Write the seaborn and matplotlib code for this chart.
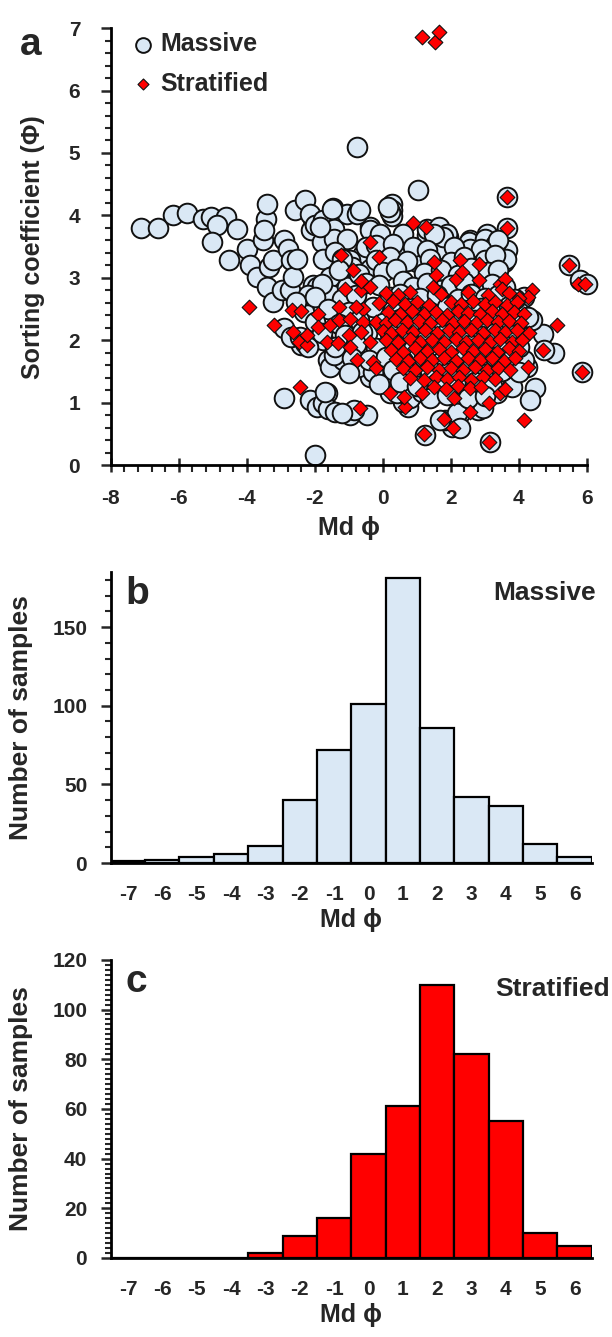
import matplotlib
matplotlib.use("Agg")
import matplotlib.pyplot as plt
import seaborn as sns
from matplotlib.ticker import MultipleLocator

# ---------------- data ----------------
# Panel a: median grain size (Md phi) vs sorting coefficient, massive facies
massive_md = [
    -7.10, -6.60, -6.18, -5.75, -5.28, -5.06, -4.60, -4.88, -4.30, -5.03,
    -4.51, -4.00, -3.90, -3.51, -3.43, -3.41, -3.71, -3.36, -3.22, -3.41,
    -3.22, -2.97, -2.73, -2.92, -2.78, -2.70, -2.58, -2.63, -2.92, -2.40,
    -2.70, -2.92, -2.14, -1.94, -1.99, -2.04, -2.10, -2.04, -2.24, -2.33,
    -3.49, -2.29, -2.14, -1.99, -1.75, -1.47, -1.45, -1.06, -0.72, -0.37,
    -0.57, -1.79, -1.45, -1.06, -2.53, -1.75, -1.40, -0.96, -0.90, -1.55,
    -1.94, -2.20, -2.55, -1.50, -1.06, -1.75, -1.60, -1.26, -1.55, -0.37,
    -1.65, -1.75, -1.62, -1.40, -0.96, -0.47, -2.43, -2.29, -0.72, -0.86,
    -1.70, -1.20, -2.20, -0.47, -1.16, -1.45,
    -0.77, 1.02, 3.66, 3.66, 0.26, 0.26, 0.26, -1.50, -1.84, -0.37,
    -0.08, 0.60, 1.29, 1.59, 1.93, 2.57, 3.25, 3.06, 3.65, 5.46,
    5.80, 6.00, 5.85, 4.72, 5.02, 4.75, 4.38, 4.24, 4.48, 4.33,
    3.79, 3.16, 1.24, 2.03, 1.83, 2.27, 0.75, 0.21, 0.60, -0.77,
    0.21, 0.15, 1.29, 1.66, 1.88, 2.52, 3.00, 3.30, 3.55, 2.76,
    2.57, 1.78, 1.00, 0.51, -0.50, -0.37, -0.67, 4.14, 3.99, 4.28,
    4.14, 2.81, 2.95, 3.35, 3.62, 3.40, 2.70, 1.78, 1.50, 1.69,
    3.74, 2.27, 2.18, 1.69, 2.27, 0.41, 0.80, 1.15, 0.02, -0.30,
    -0.20, 0.30, 0.90, 1.30, 2.10, 2.90,
    -1.20, -0.20, 0.20, 0.70, 1.40, 2.00, 2.40, 3.00, 3.30,
    -1.30, -0.70, 0.00, 0.40, 1.20, 1.70, 2.20, 2.60, 3.10, 3.40,
    -1.80, -0.50, -0.10, 0.60, 0.90, 1.30, 2.00, 2.40, 3.20, 3.60,
    -2.00, -1.20, -0.80, 0.20, 0.50, 1.10, 1.60, 2.20, 2.60, 3.00, 3.40, 3.90,
    -1.60, -1.00, -0.30, 0.30, 0.80, 1.40, 1.90, 2.40, 2.90, 3.30, 3.70,
    -2.00, -1.30, -0.70, 0.00, 0.50, 1.10, 1.60, 2.10, 2.70, 3.10, 3.50, 3.90,
    -1.80, -1.10, -0.60, 0.20, 0.70, 1.30, 1.80, 2.40, 2.90, 3.30, 3.80,
    -1.40, -0.80, -0.20, 0.40, 0.90, 1.50, 2.10, 2.60, 3.10, 3.50, 4.00,
    -0.90, -0.40, 0.10, 0.60, 1.20, 1.70, 2.30, 2.80, 3.30, 3.70,
    -1.00, 0.30, 0.80, 1.40, 1.90, 2.50, 3.00, 3.50, 4.00,
    -0.10, 0.50, 1.00, 1.60, 2.20, 2.70, 3.20,
    1.40, 1.90, 2.50, 3.00,
]
massive_sorting = [
    3.80, 3.80, 4.00, 4.04, 3.95, 3.97, 3.98, 3.84, 3.79, 3.57,
    3.28, 3.47, 3.20, 3.60, 3.95, 4.18, 3.01, 3.17, 3.28, 2.85,
    2.61, 2.80, 2.80, 3.60, 3.47, 3.28, 4.08, 3.01, 2.19, 1.92,
    2.05, 1.07, 1.04, 0.93, 0.16, 2.88, 3.76, 3.95, 2.64, 2.45,
    3.77, 4.24, 4.03, 3.84, 3.92, 4.12, 3.79, 4.03, 4.05, 3.81,
    3.39, 3.57, 3.63, 3.63, 3.31, 3.31, 3.41, 3.28, 3.18, 3.01,
    2.85, 2.72, 2.62, 2.72, 2.85, 2.00, 1.68, 1.63, 1.57, 1.41,
    1.15, 0.99, 0.90, 0.85, 0.80, 0.80, 2.05, 1.96, 1.57, 0.88,
    1.17, 0.83, 1.90, 2.11, 1.68, 1.76,
    5.09, 4.41, 4.29, 3.80, 4.19, 4.09, 3.99, 4.10, 3.81, 3.76,
    3.71, 3.71, 3.68, 3.76, 3.65, 3.61, 3.61, 3.71, 3.44, 3.20,
    2.96, 2.91, 1.49, 2.10, 1.79, 1.84, 2.32, 1.57, 1.23, 1.04,
    1.25, 0.37, 0.48, 0.61, 0.72, 0.83, 0.93, 1.15, 1.01, 4.03,
    4.05, 4.13, 3.79, 3.82, 3.71, 3.57, 3.62, 3.52, 3.25, 3.01,
    3.47, 3.47, 3.25, 3.41, 3.50, 3.15, 4.08, 2.69, 2.45, 2.37,
    1.68, 0.88, 0.91, 1.15, 3.31, 3.60, 2.90, 3.65, 3.70, 2.80,
    2.32, 1.95, 0.83, 0.72, 0.59, 1.15, 1.07, 1.17, 1.68, 1.50,
    3.52, 3.55, 3.50, 3.45, 3.50, 3.46,
    3.30, 3.28, 3.33, 3.27, 3.31, 3.26, 3.34, 3.28, 3.36,
    3.12, 3.06, 3.10, 3.14, 3.08, 3.12, 3.05, 3.16, 3.09, 3.12,
    2.90, 2.92, 2.88, 2.95, 2.86, 2.92, 2.88, 2.94, 2.90, 2.86,
    2.70, 2.66, 2.73, 2.70, 2.75, 2.68, 2.72, 2.66, 2.74, 2.68, 2.72, 2.66,
    2.50, 2.46, 2.53, 2.48, 2.52, 2.46, 2.54, 2.48, 2.52, 2.46, 2.55,
    2.30, 2.26, 2.32, 2.28, 2.34, 2.27, 2.31, 2.26, 2.33, 2.28, 2.32, 2.25,
    2.12, 2.08, 2.14, 2.10, 2.06, 2.12, 2.08, 2.14, 2.07, 2.12, 2.09,
    1.90, 1.94, 1.88, 1.92, 1.86, 1.93, 1.88, 1.92, 1.87, 1.94, 1.90,
    1.72, 1.68, 1.73, 1.67, 1.71, 1.66, 1.72, 1.68, 1.73, 1.67,
    1.48, 1.52, 1.46, 1.53, 1.47, 1.52, 1.46, 1.51, 1.49,
    1.30, 1.33, 1.27, 1.32, 1.28, 1.33, 1.27,
    1.08, 1.12, 1.07, 1.11,
]

# Panel a: stratified facies
stratified_md = [
    1.15, 1.54, 1.66, -3.95, -3.20, -2.68, -2.40, -2.64, -2.47, -2.24,
    -2.22, -1.90, -1.92, -2.43, -0.67, -1.24, -0.88, -0.39, -1.11, -0.65,
    -0.37, -0.63, -1.28, -1.55, -1.28, -0.96, -0.57, -0.80, -0.57, -0.99,
    -0.65, -1.65, -1.31, -0.96, -0.76, -0.37, -0.28, -0.20, 0.90, 1.26,
    -0.11, 1.49, 2.27, 2.83, 1.56, 1.46, 2.14, 2.34, 2.83, 3.45,
    3.60, 3.49, 4.38, 4.28, 4.00, 5.12, 4.72, 4.28, 4.14, 3.12,
    2.05, 1.81, 1.22, 0.66, 0.21, 0.63, 1.15, 2.08, 2.57, 3.11,
    3.45, 3.66, 3.66, 5.46, 5.75, 5.95, 5.85,
    0.10, 0.45, 0.80, 1.70, 2.50, 3.10, 3.70,
    -0.10, 0.30, 0.65, 1.00, 1.35, 2.00, 2.30, 2.65, 3.00, 3.30, 3.65, 3.95,
    0.15, 0.50, 0.85, 1.20, 1.55, 1.90, 2.20, 2.50, 2.85, 3.20, 3.50, 3.85, 4.15,
    -0.20, 0.10, 0.35, 0.70, 1.05, 1.40, 1.75, 2.05, 2.40, 2.75, 3.05, 3.40, 3.70, 4.05,
    0.00, 0.25, 0.55, 0.90, 1.25, 1.60, 1.95, 2.25, 2.60, 2.95, 3.30, 3.60, 3.95, 4.30,
    0.10, 0.45, 0.80, 1.10, 1.45, 1.80, 2.15, 2.45, 2.80, 3.15, 3.45, 3.80, 4.10,
    0.25, 0.60, 0.95, 1.30, 1.65, 2.00, 2.35, 2.65, 3.00, 3.35, 3.70, 4.00,
    0.40, 0.75, 1.10, 1.45, 1.80, 2.15, 2.50, 2.85, 3.20, 3.55, 3.90,
    0.60, 0.95, 1.30, 1.65, 2.00, 2.35, 2.70, 3.05, 3.40, 3.75,
    0.80, 1.20, 1.55, 1.90, 2.25, 2.60, 2.95, 3.30,
    1.50, 1.85, 2.20, 2.55, 2.90, 3.60,
]
stratified_sorting = [
    6.85, 6.77, 6.93, 2.54, 2.25, 2.48, 2.47, 2.14, 1.97, 1.93,
    2.09, 2.42, 2.22, 1.25, 0.91, 3.36, 3.13, 3.57, 2.83, 2.80,
    2.86, 2.95, 2.54, 2.24, 2.33, 2.35, 2.51, 2.53, 2.30, 2.08,
    2.13, 1.97, 1.96, 1.90, 1.69, 1.97, 1.65, 1.55, 3.88, 3.81,
    3.33, 3.25, 3.28, 3.23, 3.04, 2.86, 2.99, 3.10, 2.96, 2.91,
    2.99, 2.82, 2.80, 2.70, 2.68, 2.24, 1.84, 1.57, 0.72, 0.38,
    0.60, 0.74, 0.50, 0.94, 1.16, 1.09, 1.15, 1.07, 0.86, 0.99,
    1.16, 4.30, 3.80, 3.20, 2.91, 2.90, 1.49,
    2.76, 2.72, 2.78, 2.74, 2.77, 2.73, 2.76,
    2.60, 2.63, 2.58, 2.62, 2.57, 2.61, 2.58, 2.63, 2.59, 2.62, 2.57, 2.61,
    2.45, 2.42, 2.47, 2.43, 2.46, 2.41, 2.47, 2.44, 2.42, 2.47, 2.43, 2.46, 2.42,
    2.30, 2.28, 2.32, 2.29, 2.31, 2.27, 2.32, 2.28, 2.31, 2.27, 2.32, 2.29, 2.31, 2.28,
    2.15, 2.12, 2.17, 2.13, 2.16, 2.12, 2.17, 2.13, 2.16, 2.12, 2.17, 2.13, 2.16, 2.12,
    2.00, 1.97, 2.02, 1.98, 2.01, 1.97, 2.02, 1.98, 2.01, 1.97, 2.02, 1.98, 2.01,
    1.85, 1.82, 1.87, 1.83, 1.86, 1.82, 1.87, 1.83, 1.86, 1.82, 1.87, 1.83,
    1.70, 1.67, 1.72, 1.68, 1.71, 1.67, 1.72, 1.68, 1.71, 1.67, 1.72,
    1.55, 1.52, 1.57, 1.53, 1.56, 1.52, 1.57, 1.53, 1.56, 1.52,
    1.40, 1.37, 1.42, 1.38, 1.41, 1.37, 1.42, 1.38,
    1.25, 1.22, 1.27, 1.23, 1.26, 1.22,
]

# Panels b and c: histogram of Md phi (bin centres and counts)
md_bins = [-7, -6, -5, -4, -3, -2, -1, 0, 1, 2, 3, 4, 5, 6]
massive_counts = [1, 2, 4, 6, 11, 40, 72, 101, 181, 86, 42, 36, 12, 4]
stratified_counts = [0, 0, 0, 0, 2, 9, 16, 42, 61, 110, 82, 55, 10, 5]

# ---------------- style ----------------
sns.set_theme(style="ticks")
plt.rcParams['font.family'] = ['Liberation Sans', 'DejaVu Sans']
plt.rcParams['font.weight'] = 'bold'
plt.rcParams['axes.labelweight'] = 'bold'
plt.rcParams['axes.unicode_minus'] = False

LIGHT_BLUE = '#dae8f5'
RED = '#ff0000'
EDGE = '#111111'
SPINE_W = 2.0
TICK_FS = 15
LABEL_FS = 18
PHI = 'Md \u03d5'

fig = plt.figure(figsize=(6.12, 13.37), dpi=100)
ax_a = fig.add_axes([0.181, 0.652, 0.778, 0.327])
ax_b = fig.add_axes([0.181, 0.3545, 0.786, 0.2177])
ax_c = fig.add_axes([0.181, 0.0591, 0.786, 0.223])

for ax in (ax_a, ax_b, ax_c):
    sns.despine(ax=ax)
    for s in ('left', 'bottom'):
        ax.spines[s].set_linewidth(SPINE_W)
        ax.spines[s].set_color('black')

# ---------------- panel a: scatter ----------------
sns.scatterplot(x=massive_md, y=massive_sorting, ax=ax_a, marker='o', s=200,
                color=LIGHT_BLUE, edgecolor=EDGE, linewidth=1.4,
                label='Massive', zorder=2, clip_on=False)
sns.scatterplot(x=stratified_md, y=stratified_sorting, ax=ax_a, marker='D', s=56,
                color=RED, edgecolor=EDGE, linewidth=0.8,
                label='Stratified', zorder=3, clip_on=False)
ax_a.set_xlim(-8, 6)
ax_a.set_ylim(0, 7)
ax_a.xaxis.set_major_locator(MultipleLocator(2))
ax_a.xaxis.set_minor_locator(MultipleLocator(0.4))
ax_a.yaxis.set_major_locator(MultipleLocator(1))
ax_a.yaxis.set_minor_locator(MultipleLocator(0.2))
ax_a.tick_params(axis='x', which='major', direction='inout', length=10, width=1.8,
                 labelsize=TICK_FS, pad=12)
ax_a.tick_params(axis='x', which='minor', direction='out', length=5, width=1.5)
ax_a.tick_params(axis='y', which='major', direction='out', length=7, width=1.8,
                 labelsize=TICK_FS, pad=15)
ax_a.tick_params(axis='y', which='minor', direction='out', length=4, width=1.5)
ax_a.set_xlabel(PHI, fontsize=LABEL_FS, fontweight='bold', labelpad=6)
ax_a.set_ylabel('Sorting coefficient (Φ)', fontsize=LABEL_FS, fontweight='bold',
                labelpad=17)
leg = ax_a.legend(loc='upper left', bbox_to_anchor=(0.042, 0.99), frameon=False,
                  fontsize=18, markerscale=0.75, handlelength=1.0,
                  handletextpad=0.2, labelspacing=0.62, borderpad=0,
                  borderaxespad=0)
for t in leg.get_texts():
    t.set_fontweight('bold')
fig.text(0.033, 0.966, 'a', fontsize=28, fontweight='bold', ha='left', va='center')

# ---------------- panels b and c: histograms ----------------
def histogram(ax, counts, colour, ymax, major, minor, tag, title, tx, ty):
    sns.barplot(x=md_bins, y=counts, ax=ax, native_scale=True, width=1.0,
                color=colour, saturation=1, edgecolor='black', linewidth=1.6,
                errorbar=None, zorder=2)
    ax.set_xlim(-7.5, 6.5)
    ax.set_ylim(0, ymax)
    ax.set_xticks(md_bins)
    ax.set_xticklabels([str(v) for v in md_bins])
    ax.yaxis.set_major_locator(MultipleLocator(major))
    ax.yaxis.set_minor_locator(MultipleLocator(minor))
    ax.tick_params(axis='x', which='both', length=0, labelsize=TICK_FS, pad=16)
    ax.tick_params(axis='y', which='major', direction='out', length=7, width=1.8,
                   labelsize=TICK_FS, pad=10)
    ax.tick_params(axis='y', which='minor', direction='out', length=4, width=1.5)
    ax.set_xlabel(PHI, fontsize=LABEL_FS, fontweight='bold', labelpad=3)
    ax.set_ylabel('Number of samples', fontsize=19, fontweight='bold', labelpad=14)
    ax.text(0.03, 0.985, tag, transform=ax.transAxes, fontsize=28,
            fontweight='bold', ha='left', va='top')
    ax.text(tx, ty, title, transform=ax.transAxes, fontsize=19,
            fontweight='bold', ha='right', va='center')

histogram(ax_b, massive_counts, LIGHT_BLUE, 185, 50, 10, 'b', 'Massive', 1.008, 0.928)
histogram(ax_c, stratified_counts, RED, 120, 20, 2, 'c', 'Stratified', 1.038, 0.903)

fig.savefig('out.png', dpi=100)
